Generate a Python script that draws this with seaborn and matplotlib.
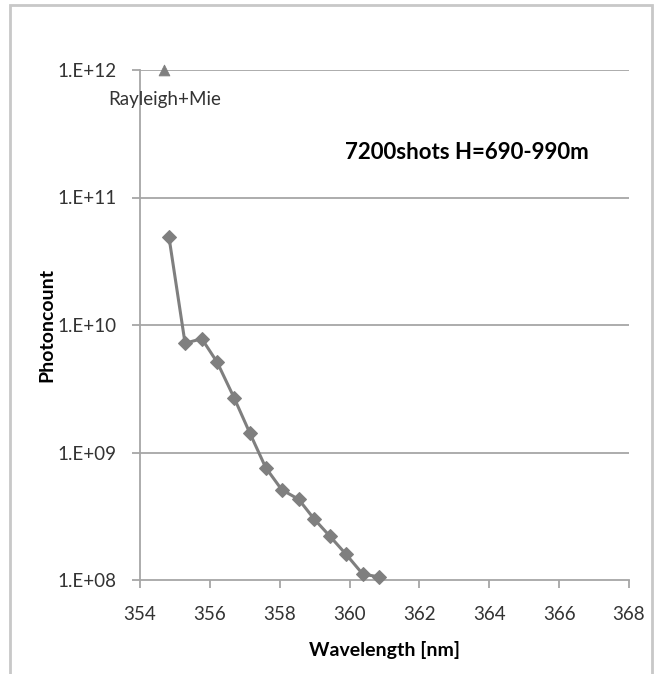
import numpy as np
import pandas as pd
import matplotlib.pyplot as plt
import seaborn as sns
from matplotlib.ticker import FixedLocator, FuncFormatter, NullLocator
from matplotlib.patches import Rectangle

# Raman spectrum
wavelength = [354.83, 355.29, 355.77, 356.21, 356.69, 357.15, 357.60,
              358.06, 358.54, 358.99, 359.44, 359.90, 360.38, 360.84]
photoncount = [4.88e10, 7.2e9, 7.8e9, 5.1e9, 2.7e9, 1.41e9, 7.6e8,
               5.1e8, 4.3e8, 3.0e8, 2.2e8, 1.59e8, 1.11e8, 1.06e8]

# elastic return (off the scale, pinned at the top)
ray_wavelength = [354.68]
ray_count = [1.0e12]

x_ticks = [354, 356, 358, 360, 362, 364, 366, 368]
y_ticks = [1e8, 1e9, 1e10, 1e11, 1e12]

df = pd.DataFrame({"Wavelength": wavelength, "Photoncount": photoncount})
df_ray = pd.DataFrame({"Wavelength": ray_wavelength, "Photoncount": ray_count})

sns.set_theme(style="white")
plt.rcParams["font.family"] = ["Lato", "DejaVu Sans"]

gray = "#7f7f7f"
axis_gray = "#a6a6a6"
text_col = "#333333"

fig = plt.figure(figsize=(6.54, 6.74), dpi=100)
ax = fig.add_axes([140 / 654, 94 / 674, 489 / 654, 510 / 674])

ax.set_yscale("log")
ax.set_xlim(354, 368)
ax.set_ylim(1e8, 1e12)

for y in y_ticks[1:]:
    ax.axhline(y, color=axis_gray, linewidth=1.3, zorder=0)

sns.lineplot(data=df, x="Wavelength", y="Photoncount", ax=ax, color=gray,
             linewidth=2.2, marker="D", markersize=7.5, markeredgecolor=gray,
             clip_on=False, zorder=3)
sns.scatterplot(data=df_ray, x="Wavelength", y="Photoncount", ax=ax, color=gray,
                marker="^", s=60, edgecolor=gray, clip_on=False, zorder=3)

ax.annotate("Rayleigh+Mie", xy=(ray_wavelength[0], ray_count[0]), xytext=(1, -21.5),
            textcoords="offset points", ha="center", va="center", fontsize=13.5,
            color=text_col)

ax.text(0.669, 0.839, "7200shots H=690-990m", transform=ax.transAxes,
        ha="center", va="center", fontsize=16, fontweight="bold", color="black")

ax.xaxis.set_major_locator(FixedLocator(x_ticks))
ax.yaxis.set_major_locator(FixedLocator(y_ticks))
ax.yaxis.set_minor_locator(NullLocator())
ax.yaxis.set_major_formatter(FuncFormatter(lambda v, p: f"1.E+{int(round(np.log10(v))):02d}"))
ax.xaxis.set_major_formatter(FuncFormatter(lambda v, p: f"{int(v)}"))

for side in ["top", "right"]:
    ax.spines[side].set_visible(False)
for side in ["left", "bottom"]:
    ax.spines[side].set_color(axis_gray)
    ax.spines[side].set_linewidth(1.3)

ax.tick_params(axis="both", which="major", direction="out", length=6, width=1.3,
               color=axis_gray, labelsize=13.5, labelcolor=text_col,
               bottom=True, left=True)
ax.tick_params(axis="y", pad=11)
ax.tick_params(axis="x", pad=13)

ax.set_xlabel("Wavelength [nm]", fontsize=14, fontweight="bold", color="black")
ax.set_ylabel("Photoncount", fontsize=14, fontweight="bold", color="black")
ax.xaxis.label.set_va("center")
ax.yaxis.label.set_va("center")
ax.xaxis.set_label_coords(0.5, (580 - 650) / 510)
ax.yaxis.set_label_coords((47 - 140) / 489, 0.5)

fig.patches.append(Rectangle((10 / 654, -0.05), 642 / 654, 1.05 - 5 / 674,
                             transform=fig.transFigure, fill=False,
                             edgecolor="#c8c8c8", linewidth=2))

fig.savefig("out.png", dpi=100, facecolor="white")
